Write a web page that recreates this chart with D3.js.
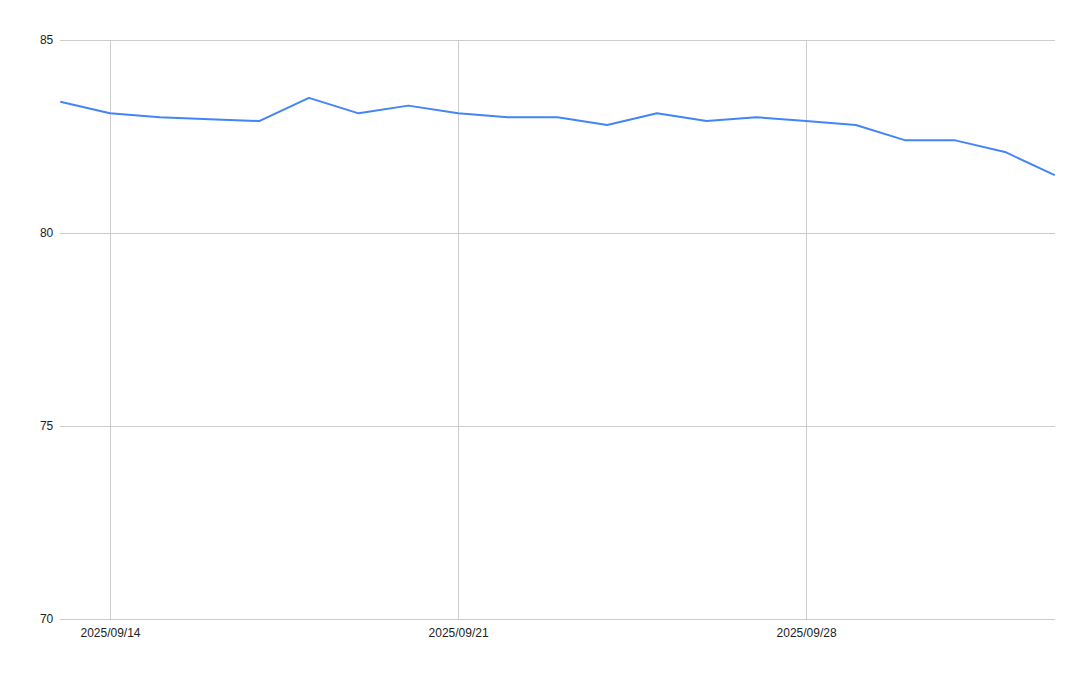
<!DOCTYPE html>
<html>
<head>
<meta charset="utf-8">
<script src="https://cdn.jsdelivr.net/npm/d3@7"></script>
<style>
  html, body { margin: 0; padding: 0; background: #fff; }
  svg text { font-family: "Liberation Sans", Arial, sans-serif; font-size: 12px; fill: #222; }
</style>
</head>
<body>
<svg id="chart" width="1089" height="673"></svg>
<script>
const dates = ["2025-09-13","2025-09-14","2025-09-15","2025-09-16","2025-09-17","2025-09-18","2025-09-19",
  "2025-09-20","2025-09-21","2025-09-22","2025-09-23","2025-09-24","2025-09-25","2025-09-26",
  "2025-09-27","2025-09-28","2025-09-29","2025-09-30","2025-10-01","2025-10-02","2025-10-03"];
const values = [83.4, 83.1, 83.0, 82.95, 82.9, 83.5, 83.1, 83.3, 83.1, 83.0, 83.0, 82.8, 83.1, 82.9,
  83.0, 82.9, 82.8, 82.4, 82.4, 82.1, 81.5];
const yTicks = [70, 75, 80, 85];
const xTickDates = ["2025-09-14", "2025-09-21", "2025-09-28"];

const parse = d3.timeParse("%Y-%m-%d");
const fmt = d3.timeFormat("%Y/%m/%d");
const data = dates.map((d, i) => ({ date: parse(d), value: values[i] }));

const width = 1089, height = 673;
const plot = { left: 60.3, right: 1054.7, top: 40, bottom: 619 };
const svg = d3.select("#chart");

const x = d3.scaleTime()
  .domain(d3.extent(data, d => d.date))
  .range([plot.left, plot.right]);
const y = d3.scaleLinear()
  .domain([70, 85])
  .range([plot.bottom, plot.top]);

// horizontal gridlines + y labels
const yAxis = d3.axisLeft(y)
  .tickValues(yTicks)
  .tickSize(-(plot.right - plot.left))
  .tickPadding(7)
  .tickFormat(d3.format("d"));
const gy = svg.append("g")
  .attr("transform", `translate(${plot.left},0)`)
  .call(yAxis);
gy.select(".domain").remove();
gy.selectAll(".tick line").attr("stroke", "#cccccc").attr("stroke-width", 1).attr("shape-rendering", "crispEdges");
gy.selectAll(".tick text").style("font-size", "12px").attr("fill", "#222");

// vertical gridlines + x labels
const xAxis = d3.axisBottom(x)
  .tickValues(xTickDates.map(parse))
  .tickSize(-(plot.bottom - plot.top))
  .tickPadding(9)
  .tickFormat(fmt);
const gx = svg.append("g")
  .attr("transform", `translate(0,${plot.bottom})`)
  .call(xAxis);
gx.select(".domain").remove();
gx.selectAll(".tick line").attr("stroke", "#cccccc").attr("stroke-width", 1).attr("shape-rendering", "crispEdges");
gx.selectAll(".tick text").style("font-size", "12px").attr("fill", "#222");

// line
const line = d3.line()
  .x(d => x(d.date))
  .y(d => y(d.value));
svg.append("path")
  .datum(data)
  .attr("fill", "none")
  .attr("stroke", "#4285F4")
  .attr("stroke-width", 2)
  .attr("stroke-linejoin", "round")
  .attr("d", line);
</script>
</body>
</html>
